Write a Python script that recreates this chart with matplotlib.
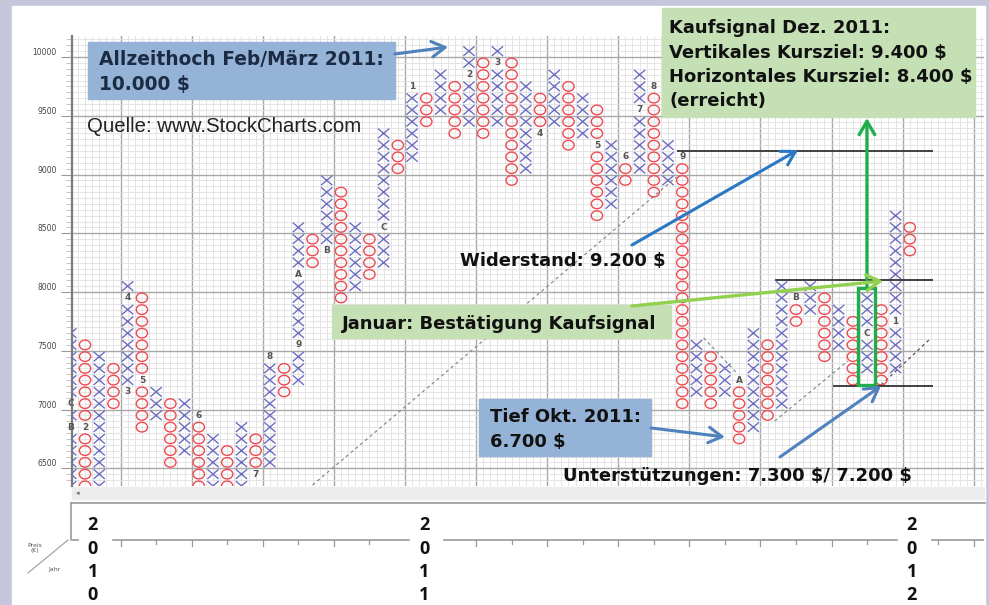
import matplotlib
matplotlib.use("Agg")
import matplotlib.pyplot as plt
from matplotlib.path import Path
from matplotlib.patches import Rectangle
from matplotlib.transforms import Affine2D
import numpy as np

# Point & Figure columns, box size 100 $ (box p covers p .. p+100)
col_type = ["X", "O", "X", "O", "X", "O", "X", "O", "X", "O",
            "X", "O", "X", "O", "X", "O", "X", "O", "X", "O",
            "X", "O", "X", "O", "X", "O", "X", "O", "X", "O",
            "X", "O", "X", "O", "X", "O", "X", "O", "X", "O",
            "X", "O", "X", "O", "X", "O", "X", "O", "X", "O",
            "X", "O", "X", "O", "X", "O", "X", "O", "X", "O"]
col_low = [6200, 6200, 6300, 7000, 7100, 6800, 6900, 6500, 6600, 6200,
           6300, 6200, 6300, 6400, 6500, 7100, 7200, 8200, 8300, 7900,
           8000, 8100, 8200, 9000, 9100, 9400, 9500, 9300, 9400, 9300,
           9400, 8900, 9000, 9300, 9400, 9200, 9300, 8600, 8700, 8900,
           9000, 8800, 8900, 7000, 7100, 7000, 7100, 6700, 6800, 6900,
           7000, 7700, 7800, 7400, 7500, 7200, 7300, 7200, 7300, 8300]
col_high = [7600, 7500, 7400, 7300, 8000, 7900, 7100, 7000, 7000, 6900,
            6700, 6600, 6800, 6700, 7400, 7300, 8500, 8400, 8900, 8800,
            8500, 8400, 9300, 9200, 9700, 9600, 9800, 9700, 10000, 9900,
            10000, 9900, 9700, 9600, 9800, 9700, 9600, 9500, 9200, 9100,
            9800, 9700, 9200, 9100, 7500, 7400, 7300, 7200, 7600, 7500,
            8000, 7900, 8000, 7900, 7800, 7700, 7900, 7800, 8600, 8500]

# month markers that replace a box
month_col = [0, 0, 1, 4, 4, 5, 9, 13, 14, 16, 16, 18, 22,
             24, 28, 30, 33, 37, 39, 40, 41, 43, 47, 51, 56, 58]
month_box = [6800, 7000, 6800, 7100, 7900, 7200, 6900, 6400, 7400, 7500, 8100, 8300, 8500,
             9700, 9800, 9900, 9300, 9200, 9100, 9500, 9700, 9100, 7200, 7900, 7600, 7700]
month_text = ["B", "C", "2", "3", "4", "5", "6", "7", "8", "9", "A", "B", "C",
              "1", "2", "3", "4", "5", "6", "7", "8", "9", "A", "B", "C", "1"]

y_ticks = [6500, 7000, 7500, 8000, 8500, 9000, 9500, 10000]
year_text = ["2010", "2011", "2012"]
year_col = [1.55, 24.85, 59.15]

resistance = 9200
breakout = 8100
support = 7200

W, H = 989, 605
fig = plt.figure(figsize=(W / 100, H / 100), dpi=100)
fig.patch.set_facecolor("#c5c5dc")

# pixel based decoration layer
deco = fig.add_axes([0, 0, 1, 1], zorder=0)
deco.set_xlim(0, W)
deco.set_ylim(H, 0)
deco.axis("off")
deco.add_patch(Rectangle((12, 6), 973, 600, color="white"))
deco.add_patch(Rectangle((72, 487), 912, 12, color="#ececec"))
deco.text(78, 493, "◂", fontsize=5, color="#666", ha="center", va="center")
deco.plot([70.5, 985], [503, 503], color="#9a9a9a", lw=1.2)
deco.plot([70.5, 70.5], [503, 540], color="#9a9a9a", lw=1.2)
deco.plot([28, 68], [573, 540], color="#9a9a9a", lw=0.8)
deco.text(35, 548, "Preis\n(€)", fontsize=4.5, color="#555", ha="center", va="center",
          linespacing=1.0)
deco.text(55, 570, "Jahr", fontsize=4.5, color="#555", ha="center", va="center")

# main P&F chart
ax = fig.add_axes([72 / W, 1 - 486 / H, (984 - 72) / W, (486 - 36) / H], zorder=1)
ax.set_xlim(0.084, 64.22)
ax.set_ylim(6349, 10179)
ax.set_facecolor("white")

for k in np.arange(-0.5, 65, 0.5):
    major = abs((k - 3.5) % 5) < 1e-6
    ax.axvline(k, color="#a8a8a8" if major else "#e0e0e0", lw=1.0 if major else 0.6, zorder=0)
for p in range(6300, 10250, 50):
    major = p % 500 == 0
    ax.axhline(p, color="#a8a8a8" if major else "#e0e0e0", lw=1.0 if major else 0.6, zorder=0)

labels = {(c, b): t for c, b, t in zip(month_col, month_box, month_text)}
xs_x, ys_x, xs_o, ys_o = [], [], [], []
for i, (t, lo, hi) in enumerate(zip(col_type, col_low, col_high)):
    for p in range(lo, hi + 100, 100):
        if (i, p) in labels:
            continue
        if t == "X":
            xs_x.append(i)
            ys_x.append(p + 50)
        else:
            xs_o.append(i)
            ys_o.append(p + 50)

x_marker = Path([(-1, -0.85), (1, 0.85), (-1, 0.85), (1, -0.85)],
                [Path.MOVETO, Path.LINETO, Path.MOVETO, Path.LINETO])
o_marker = Path.unit_circle().transformed(Affine2D().scale(1, 0.85))
ax.scatter(xs_x, ys_x, marker=x_marker, s=66, facecolors="none",
           edgecolors="#6d6dc2", linewidths=1.0, zorder=3)
ax.scatter(xs_o, ys_o, marker=o_marker, s=66, facecolors="none",
           edgecolors="#ee4a52", linewidths=1.0, zorder=3)
for (c, b), t in labels.items():
    ax.text(c, b + 50, t, fontsize=6.5, fontweight="bold", color="#555555",
            ha="center", va="center", zorder=3)

# trend lines
ax.plot([17.0, 42.6], [6357, 8979], ls=(0, (2.5, 2.5)), color="#8a8a8a", lw=0.9, zorder=2)
ax.plot([44.5, 46.9], [7610, 7302], ls=(0, (2.5, 2.5)), color="#8a8a8a", lw=0.9, zorder=2)
ax.plot([49.5, 54.65], [6902, 7413], ls=(0, (2.5, 2.5)), color="#8a8a8a", lw=0.9, zorder=2)
ax.plot([56.98, 60.42], [7209, 7600], ls=(0, (2.5, 2.5)), color="#555555", lw=0.9, zorder=2)

ax.hlines(resistance, 42.6, 60.6, color="#333333", lw=1.3, zorder=4)
ax.hlines(breakout, 49.5, 60.6, color="#333333", lw=1.3, zorder=4)
ax.hlines(support, 53.6, 60.6, color="#333333", lw=1.3, zorder=4)

ax.add_patch(Rectangle((55.38, 7209), 1.17, 823, fill=False, edgecolor="#1fae4b",
                       lw=2.4, zorder=5))

# y axis
ax.set_yticks(y_ticks)
ax.set_yticklabels([str(v) for v in y_ticks])
ax.set_yticks(range(6400, 10200, 50), minor=True)
ax.tick_params(axis="y", which="major", length=8, width=0.8, color="#999", labelsize=5.5,
               labelcolor="#444", pad=3)
ax.tick_params(axis="y", which="minor", length=4, width=0.6, color="#bbb")
for lbl in ax.get_yticklabels():
    lbl.set_va("bottom")
ax.set_xticks([])
for s in ["top", "right", "bottom"]:
    ax.spines[s].set_visible(False)
ax.spines["left"].set_color("#7a7a7a")
ax.spines["left"].set_linewidth(1.6)

# annotations
font = dict(family="DejaVu Sans", weight="bold")
fs = 13.0
blue_box = "#95b3d7"
green_box = "#c5e0b4"

ax.add_patch(Rectangle((1.21, 9643), 21.6, 485, color=blue_box, zorder=6, clip_on=False))
ax.text(1.98, 9932, "Allzeithoch Feb/März 2011:", fontsize=13.4, color="#1c2b44",
        va="baseline", zorder=7, **font)
ax.text(1.98, 9719, "10.000 \\$", fontsize=13.4, color="#1c2b44", va="baseline", zorder=7,
        **font)
ax.text(1.17, 9359, "Quelle: www.StockCharts.com", fontsize=14.7, family="Liberation Sans",
        color="#222", va="baseline", zorder=7)

ax.add_patch(Rectangle((41.57, 9489), 22.0, 928, color=green_box, zorder=6, clip_on=False))
for yy, line in zip([10204, 9991, 9787, 9583],
                    ["Kaufsignal Dez. 2011:", "Vertikales Kursziel: 9.400 \\$",
                     "Horizontales Kursziel: 8.400 \\$", "(erreicht)"]):
    ax.text(42.1, yy, line, fontsize=fs, color="#111", va="baseline", zorder=7,
            clip_on=False, **font)

ax.text(27.37, 8221, "Widerstand: 9.200 \\$", fontsize=fs, color="#111", va="baseline",
        zorder=7, **font)

ax.add_patch(Rectangle((18.37, 7609), 23.84, 280, color=green_box, zorder=6))
ax.text(19.07, 7689, "Januar: Bestätigung Kaufsignal", fontsize=fs, color="#111",
        va="baseline", zorder=7, **font)

ax.add_patch(Rectangle((28.7, 6604), 12.1, 485, color=blue_box, zorder=6))
ax.text(29.48, 6896, "Tief Okt. 2011:", fontsize=fs, color="#111", va="baseline", zorder=7,
        **font)
ax.text(29.48, 6683, "6.700 \\$", fontsize=fs, color="#111", va="baseline", zorder=7, **font)

ax.text(34.61, 6391, "Unterstützungen: 7.300 \\$/ 7.200 \\$", fontsize=fs, color="#111",
        va="baseline", zorder=7, **font)


def arrow(x0, y0, x1, y1, color, lw=2.2):
    ax.annotate("", xy=(x1, y1), xytext=(x0, y0), zorder=8, annotation_clip=False,
                arrowprops=dict(arrowstyle="->,head_length=0.6,head_width=0.35",
                                color=color, lw=lw, shrinkA=0, shrinkB=0, mutation_scale=16))


arrow(22.8, 10026, 26.53, 10085, "#4f81bd")
arrow(39.46, 8400, 51.14, 9209, "#2a78c4")
arrow(40.8, 6843, 46.0, 6766, "#4f81bd")
arrow(49.87, 6596, 56.98, 7200, "#4f81bd")
arrow(55.99, 8034, 55.99, 9481, "#1fae4b", lw=2.4)
arrow(39.46, 7881, 57.12, 8094, "#92d050", lw=2.4)

# year axis below
axy = fig.add_axes([72 / W, 0, (984 - 72) / W, (605 - 503) / H], zorder=1)
axy.set_xlim(ax.get_xlim())
axy.set_ylim(605, 503)
axy.axis("off")
edges = [0.084] + [v for c in year_col for v in (c - 1.05, c + 1.4)] + [64.22]
for a, b in zip(edges[0::2], edges[1::2]):
    if b > a:
        axy.plot([a, b], [540, 540], color="#9a9a9a", lw=1.2)
for k in np.arange(3.5, 64, 2.5):
    if any(abs(k - c) < 1.5 for c in year_col):
        continue
    ln = 6 if abs((k - 3.5) % 5) < 1e-6 else 4
    axy.plot([k, k], [540, 540 + ln], color="#9a9a9a", lw=0.9)
for c, yr in zip(year_col, year_text):
    for j, ch in enumerate(yr):
        axy.text(c, 525 + j * 23.5, ch, fontsize=13, fontweight="bold", family="Open Sans",
                 color="#111", ha="center", va="center")

fig.savefig("out.png", dpi=100, facecolor=fig.get_facecolor())
